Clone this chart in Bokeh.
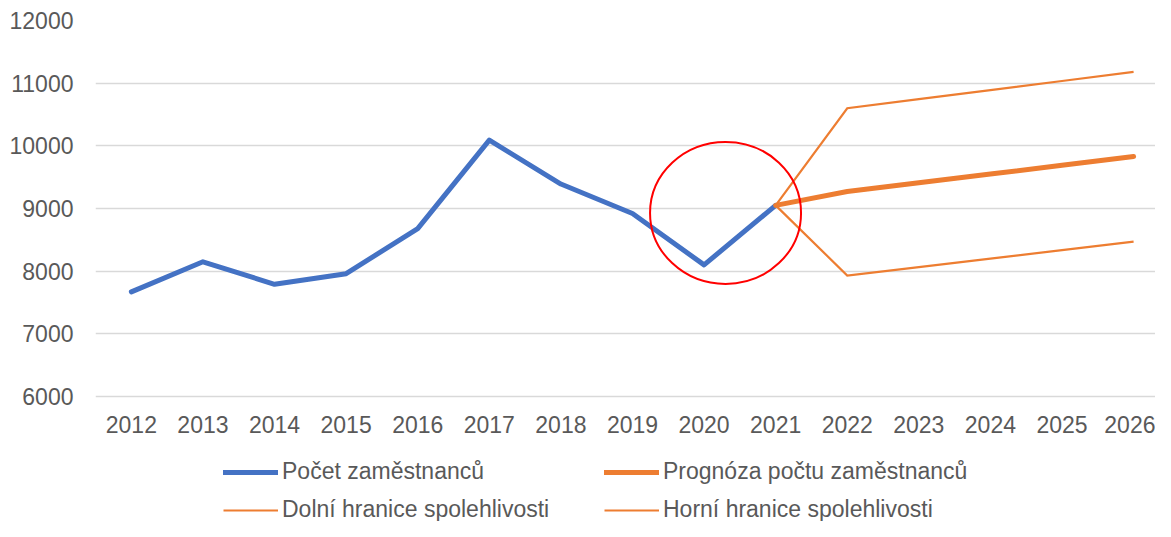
from bokeh.plotting import figure
from bokeh.models import Range1d, FixedTicker, Legend, LegendItem
from bokeh.embed import file_html
from bokeh.resources import INLINE

# ---- data ----
years_hist = [2012, 2013, 2014, 2015, 2016, 2017, 2018, 2019, 2020, 2021]
pocet = [7670, 8150, 7790, 7960, 8680, 10090, 9390, 8920, 8100, 9050]

years_fc = [2021, 2022, 2023, 2024, 2025, 2026]
prognoza = [9050, 9270, 9410, 9550, 9690, 9830]
dolni = [9050, 7930, 8065, 8200, 8335, 8470]
horni = [9050, 10600, 10745, 10890, 11035, 11180]

x_ticks = list(range(2012, 2027))
y_ticks = [6000, 7000, 8000, 9000, 10000, 11000, 12000]

circle_x = [2020.3]
circle_y = [8930]

labels = ["Počet zaměstnanců", "Prognóza počtu zaměstnanců",
          "Dolní hranice spolehlivosti", "Horní hranice spolehlivosti"]

BLUE = "#4472C4"
ORANGE = "#ED7D31"
TXT = "#595959"
FONT = "Liberation Sans"

# The frame reaches the bottom of the figure so that the legend (drawn inside
# the frame, below the value area) is not clipped; the x axis is pinned at 6000.
p = figure(width=1155, height=521, output_backend="svg", toolbar_location=None,
           x_range=Range1d(2011.499, 2026.306), y_range=Range1d(4005.3, 12000),
           min_border_left=95, min_border_right=0, min_border_top=20,
           min_border_bottom=0)
p.outline_line_color = None
p.background_fill_color = "white"
p.border_fill_color = "white"

p.xgrid.grid_line_color = None
p.ygrid.grid_line_color = "#D9D9D9"
p.ygrid.grid_line_width = 1.3
p.ygrid.ticker = FixedTicker(ticks=y_ticks)

p.yaxis.ticker = FixedTicker(ticks=y_ticks)
p.xaxis.ticker = FixedTicker(ticks=x_ticks)
p.xaxis.fixed_location = 6000
for ax in (p.xaxis, p.yaxis):
    ax.axis_line_color = None
    ax.major_tick_line_color = None
    ax.minor_tick_line_color = None
    ax.major_tick_out = 0
    ax.major_tick_in = 0
    ax.minor_tick_out = 0
    ax.minor_tick_in = 0
    ax.major_label_text_font = FONT
    ax.major_label_text_font_size = "23px"
    ax.major_label_text_color = TXT
p.yaxis.major_label_standoff = 22
p.xaxis.major_label_standoff = 20

r1 = p.line(years_hist, pocet, line_color=BLUE, line_width=5,
            line_join="round", line_cap="round")
r3 = p.line(years_fc, dolni, line_color=ORANGE, line_width=2.2, line_join="miter")
r4 = p.line(years_fc, horni, line_color=ORANGE, line_width=2.2, line_join="miter")
r2 = p.line(years_fc, prognoza, line_color=ORANGE, line_width=5,
            line_join="round", line_cap="round")

p.ellipse(x=circle_x, y=circle_y, width=151, height=142,
          width_units="screen", height_units="screen",
          fill_alpha=0, line_color="#FF0000", line_width=2)

legend = Legend(items=[LegendItem(label=labels[0], renderers=[r1]),
                       LegendItem(label=labels[1], renderers=[r2]),
                       LegendItem(label=labels[2], renderers=[r3]),
                       LegendItem(label=labels[3], renderers=[r4])],
                location=(128, -2), orientation="horizontal", ncols=2)
legend.label_text_font = FONT
legend.label_text_font_size = "23px"
legend.label_text_color = TXT
legend.label_standoff = 4
legend.label_width = 311
legend.label_height = 24
legend.glyph_width = 55
legend.glyph_height = 24
legend.spacing = 11
legend.padding = 0
legend.margin = 0
legend.border_line_color = None
legend.background_fill_alpha = 0
p.add_layout(legend, "center")

open("out.html", "w").write(file_html(p, INLINE))
